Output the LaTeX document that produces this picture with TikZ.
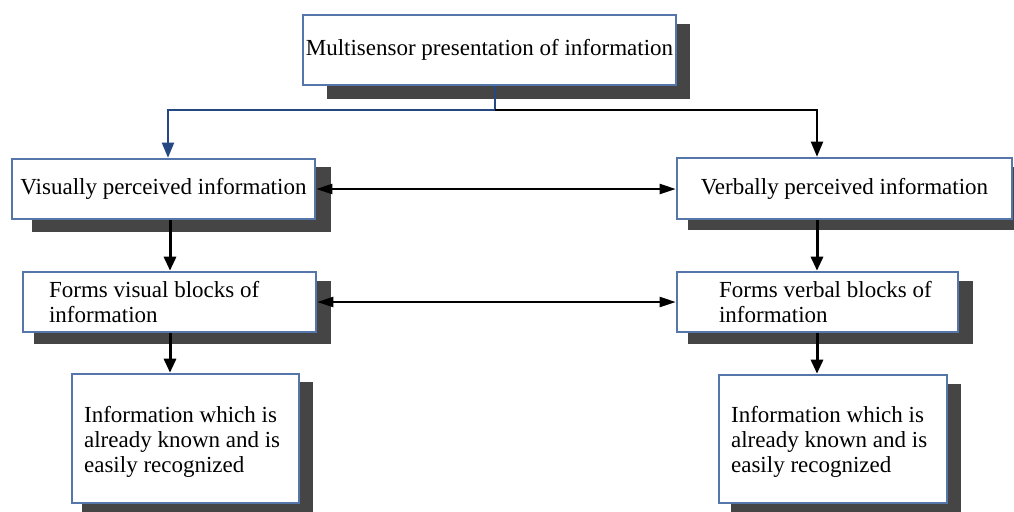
\documentclass[tikz,border=0pt]{standalone}
\usepackage{fontspec}
\setmainfont{Liberation Serif}
\usetikzlibrary{arrows.meta,calc}
\pgfdeclarelayer{background}
\pgfsetlayers{background,main}
\definecolor{boxline}{RGB}{84,118,170}
\definecolor{shadowgray}{RGB}{69,69,69}
\definecolor{linkblue}{RGB}{38,72,130}
\tikzset{
  box/.style={draw=boxline, line width=1.3pt, fill=white, inner sep=0pt,
    rectangle, font=\fontsize{11.5}{12.4}\selectfont},
  lbl/.style={inner sep=0pt, align=left, font=\fontsize{11.5}{12.4}\selectfont},
  down/.style={line width=1.5pt, -{Triangle[width=6pt,length=7pt]}},
  both/.style={line width=1pt, {Triangle[width=5pt,length=8pt]}-{Triangle[width=5pt,length=8pt]}},
  feed/.style={line width=1pt},
}
% drop shadow behind a box: node, left/top inset, right/bottom overhang
\newcommand{\boxshadow}[5]{%
  \begin{pgfonlayer}{background}
    \fill[shadowgray] ($(#1.north west)+(#2,#3)$) rectangle ($(#1.south east)+(#4,#5)$);
  \end{pgfonlayer}}
\begin{document}
\begin{tikzpicture}[x=0.5pt,y=-0.5pt]
\useasboundingbox (0,0) rectangle (1014,511);

% boxes
\node[box, minimum width=186.5pt, minimum height=35pt] (top) at (489.5,50)
  {Multisensor presentation of information};
\node[box, minimum width=151.5pt, minimum height=30pt] (vis) at (163.5,189)
  {Visually perceived information};
\node[box, minimum width=167.5pt, minimum height=30.5pt] (verb) at (844.5,188.5)
  {Verbally perceived information};
\node[box, minimum width=146.5pt, minimum height=30pt] (fvis) at (169.5,302) {};
\node[box, minimum width=140.5pt, minimum height=30pt] (fverb) at (817.5,302) {};
\node[box, minimum width=113.5pt, minimum height=64.5pt] (ivis) at (185.5,438.5) {};
\node[box, minimum width=114pt, minimum height=64pt] (iverb) at (833,439) {};

% left-aligned texts
\node[lbl, anchor=west] (fvisT) at ($(fvis.west)+(27,0)$)
  {Forms visual blocks of\\information};
\node[lbl, anchor=west] (fverbT) at ($(fverb.west)+(43,0)$)
  {Forms verbal blocks of\\information};
\node[lbl, anchor=west] (ivisT) at ($(ivis.west)+(13,3.5)$)
  {Information which is\\already known and is\\easily recognized};
\node[lbl, anchor=west] (iverbT) at ($(iverb.west)+(13,3)$)
  {Information which is\\already known and is\\easily recognized};

% shadows
\boxshadow{top}{25}{10}{13}{13}
\boxshadow{vis}{21}{9}{15}{12}
\boxshadow{verb}{12}{10}{14}{10}
\boxshadow{fvis}{12}{10}{14}{11}
\boxshadow{fverb}{12}{10}{14}{11}
\boxshadow{ivis}{11}{9}{13}{12}
\boxshadow{iverb}{13}{10}{13}{12}

% column guides
\coordinate (j) at (495,110);
\coordinate (lt) at (168,0);
\coordinate (rt) at (817,0);
\coordinate (lc) at (170,0);
\coordinate (rc) at (817,0);

% branching from the top box
\draw[feed, draw=linkblue] (top.south -| j) -- (j);
\draw[feed, draw=linkblue, -{Triangle[width=6pt,length=7.5pt]}] (j) -| (lt |- vis.north);
\draw[feed, -{Triangle[width=6pt,length=7.5pt]}] (j) -| (rt |- verb.north);

% vertical flows
\draw[down] (vis.south -| lc) -- (fvis.north -| lc);
\draw[down] (fvis.south -| lc) -- (ivis.north -| lc);
\draw[down] (verb.south -| rc) -- (fverb.north -| rc);
\draw[down] (fverb.south -| rc) -- (iverb.north -| rc);

% links between the two columns
\draw[both] (vis.east) -- (vis.east -| verb.west);
\draw[both] (fvis.east) -- (fvis.east -| fverb.west);
\end{tikzpicture}
\end{document}
